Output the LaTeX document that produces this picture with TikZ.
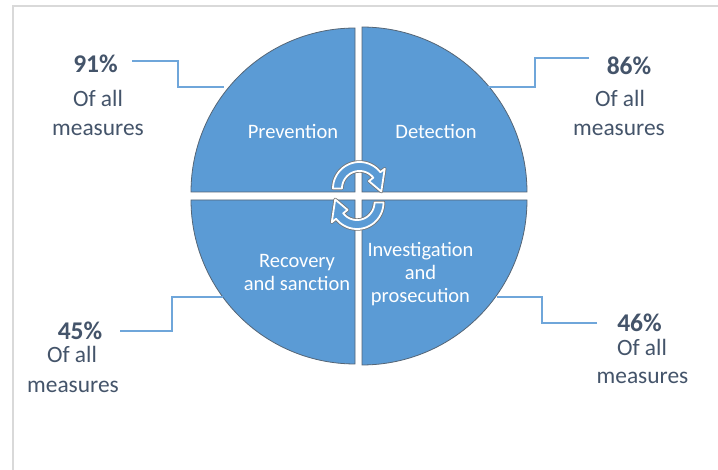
\documentclass[tikz,border=0pt]{standalone}
\usepackage{fontspec}
\setmainfont{Carlito}
\usetikzlibrary{calc}
\definecolor{qblue}{HTML}{5B9BD5}
\definecolor{qedge}{HTML}{556575}
\definecolor{lbl}{HTML}{44546A}
\definecolor{lnk}{HTML}{6FA6DA}
\definecolor{frame}{HTML}{D9D9D9}
\tikzset{
  quad/.style={fill=qblue,draw=qedge,line width=0.8pt},
  qtext/.style={text=white,font=\fontsize{20.5}{23}\selectfont,inner sep=0pt,anchor=base},
  pct/.style={text=lbl,font=\fontsize{25.5}{29}\selectfont\bfseries,inner sep=0pt,anchor=base},
  sub/.style={text=lbl,font=\fontsize{23.4}{29}\selectfont,inner sep=0pt,anchor=base},
  link/.style={draw=lnk,line width=1.3pt},
  cyc/.style={fill=qblue,draw=white,line width=1.8pt,line join=round},
  cycout/.style={draw=black!55,line width=3.4pt,line join=round},
}
\begin{document}
\begin{tikzpicture}[x=1pt,y=-1pt]
\useasboundingbox (0,0) rectangle (718,470);
\clip (0,0) rectangle (718,470);
\fill[white] (0,0) rectangle (718,470);
\draw[frame,line width=1.5pt] (13,6) rectangle (760,520);

% quadrants
\draw[quad] (355,192) -- plot[domain=180:270,samples=60] ({355+164*cos(\x)},{192+164*sin(\x)}) -- cycle;
\draw[quad] (362,192) -- plot[domain=270:360,samples=60] ({362+165*cos(\x)},{192+165*sin(\x)}) -- cycle;
\draw[quad] (355,200) -- plot[domain=90:180,samples=60] ({355+164*cos(\x)},{200+164*sin(\x)}) -- cycle;
\draw[quad] (362,200) -- plot[domain=0:90,samples=60] ({362+165*cos(\x)},{200+165*sin(\x)}) -- cycle;

% quadrant texts
\node[qtext] (prev) at (293,139) {Prevention};
\node[qtext] (det) at (436,139) {Detection};
\node[qtext] (rec1) at (297,268) {Recovery};
\node[qtext] (rec2) at (297,291) {and sanction};
\node[qtext] (inv1) at (420.5,257) {Investigation};
\node[qtext] (inv2) at (420.5,280) {and};
\node[qtext] (inv3) at (420.5,303) {prosecution};

% cycle arrows
\def\arrowpath{
  plot[domain=180:322,samples=40] ({26.5*cos(\x)},{26.5*sin(\x)})
  -- ({32*cos(322)},{32*sin(322)})
  -- ({22*cos(8)},{22*sin(8)})
  -- ({12*cos(322)},{12*sin(322)})
  -- ({17.5*cos(322)},{17.5*sin(322)})
  -- plot[domain=322:180,samples=40] ({17.5*cos(\x)},{17.5*sin(\x)})
  -- cycle}
\begin{scope}[shift={(359.5,188.5)}]
  \draw[cycout] \arrowpath;
  \draw[cyc] \arrowpath;
\end{scope}
\begin{scope}[shift={(357,202.5)},rotate=180]
  \draw[cycout] \arrowpath;
  \draw[cyc] \arrowpath;
\end{scope}

% labels
\node[pct] (p91) at (95.5,73) {91\%};
\node[sub] (s91a) at (98,107) {Of all};
\node[sub] (s91b) at (98,136) {measures};

\node[pct] (p86) at (629,75) {86\%};
\node[sub] (s86a) at (620,107) {Of all};
\node[sub] (s86b) at (619,136) {measures};

\node[pct] (p45) at (80,340) {45\%};
\node[sub] (s45a) at (72,363) {Of all};
\node[sub] (s45b) at (73,392) {measures};

\node[pct] (p46) at (639.5,332) {46\%};
\node[sub] (s46a) at (642,356) {Of all};
\node[sub] (s46b) at (642.5,384) {measures};

% connectors
\coordinate (c91a) at (132,61);
\coordinate (c91b) at (224,87);
\draw[link] (c91a) -- (178,61) -- (178,87) -- (c91b);

\coordinate (c86a) at (589,58);
\coordinate (c86b) at (488,87);
\draw[link] (c86a) -- (535,58) -- (535,87) -- (c86b);

\coordinate (c45a) at (120,331);
\coordinate (c45b) at (223,297);
\draw[link] (c45a) -- (172,331) -- (172,297) -- (c45b);

\coordinate (c46a) at (597,323);
\coordinate (c46b) at (497,297);
\draw[link] (c46a) -- (542,323) -- (542,297) -- (c46b);
\end{tikzpicture}
\end{document}
